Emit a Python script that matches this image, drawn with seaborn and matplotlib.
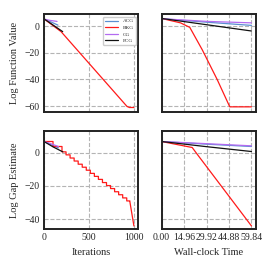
import numpy as np
import pandas as pd
import matplotlib
matplotlib.use("Agg")
import matplotlib.pyplot as plt
from matplotlib.lines import Line2D
import seaborn as sns

methods = ["ACG", "BKG", "CG", "PCG"]
colors = {"ACG": "#5a8fd0", "BKG": "#ff1a1a", "CG": "#b36bf0", "PCG": "#111111"}

# log function value vs iterations
fv_it = {"ACG": [0, 80, 155], "BKG": [0, 190, 923, 950, 1000],
         "CG": [0, 70, 145], "PCG": [0, 100, 208]}
fv_it_val = {"ACG": [5.2, 3.0, 0.7], "BKG": [5.4, -4.2, -60.2, -61.0, -61.0],
             "CG": [5.2, 4.2, 3.5], "PCG": [5.4, 0.8, -4.2]}

# log function value vs wall-clock time
fv_t = {"ACG": [0, 30, 59.84], "BKG": [0, 12.6, 18.8, 27.1, 37.0, 45.4, 59.84],
        "CG": [0, 30, 59.84], "PCG": [0, 30, 59.84]}
fv_t_val = {"ACG": [5.5, 2.9, 0.5], "BKG": [5.7, 2.4, -1.0, -17.8, -40.0, -60.5, -60.5],
            "CG": [5.5, 3.5, 2.4], "PCG": [5.7, 1.0, -3.7]}

# log gap estimate vs iterations
gap_it = {"ACG": [0, 80, 160], "CG": [0, 80, 160], "PCG": [0, 100, 209]}
gap_it_val = {"ACG": [6.6, 4.6, 2.8], "CG": [6.6, 5.2, 3.6], "PCG": [6.6, 3.4, 0.4]}
bkg_step_it = [0, 100, 200, 245, 290, 335, 380, 425, 470, 515, 560, 605, 650, 695, 740, 785, 830, 875, 920, 955]
bkg_step_val = [6.6, 3.6, 0.4, -1.4, -3.3, -5.1, -7.0, -8.8, -10.6, -12.5, -14.3, -16.1, -18.0, -19.8, -21.6, -23.5, -25.3, -27.2, -29.0, -29.5]
bkg_end_it, bkg_end_val = 1000, -44.0

# log gap estimate vs wall-clock time
gap_t = {"ACG": [0, 30, 59.84], "BKG": [0, 20.4, 23.7, 59.84],
         "CG": [0, 30, 59.84], "PCG": [0, 30, 59.84]}
gap_t_val = {"ACG": [6.6, 5.0, 3.6], "BKG": [6.6, 3.0, -1.0, -44.0],
             "CG": [6.6, 5.3, 4.0], "PCG": [6.6, 3.5, 0.6]}

time_ticks = [0.00, 14.96, 29.92, 44.88, 59.84]
iter_ticks = [0, 500, 1000]

sns.set_style("whitegrid", {"grid.linestyle": "--", "grid.color": "#b4b4b4",
                            "axes.edgecolor": "#222222"})
plt.rcParams["font.family"] = ["Liberation Serif", "DejaVu Serif"]
plt.rcParams["axes.linewidth"] = 1.4

fig, axes = plt.subplots(2, 2, figsize=(2.7, 2.7), dpi=100, sharex="col", sharey="row")
fig.subplots_adjust(left=0.163, right=0.948, top=0.948, bottom=0.152, wspace=0.245, hspace=0.19)

def draw(ax, xs, ys):
    for m in methods:
        if m not in xs:
            continue
        sns.lineplot(x=xs[m], y=ys[m], ax=ax, color=colors[m], lw=0.9,
                     sort=False, estimator=None)

draw(axes[0, 0], fv_it, fv_it_val)
draw(axes[0, 1], fv_t, fv_t_val)
draw(axes[1, 1], gap_t, gap_t_val)

# staircase for BKG gap vs iterations
sx = list(np.repeat(bkg_step_it, 2)[1:]) + [bkg_end_it]
sy = list(np.repeat(bkg_step_val, 2)[:-1]) + [bkg_end_val]
ax = axes[1, 0]
for m in methods:
    if m == "BKG":
        sns.lineplot(x=sx, y=sy, ax=ax, color=colors[m], lw=0.9, sort=False, estimator=None)
    else:
        sns.lineplot(x=gap_it[m], y=gap_it_val[m], ax=ax, color=colors[m], lw=0.9,
                     sort=False, estimator=None)

for a in axes.flat:
    a.tick_params(labelsize=7, length=0, pad=3)
    a.grid(True, lw=0.8)
    for s in a.spines.values():
        s.set_color("#222222")
        s.set_linewidth(1.4)

axes[0, 0].set_xlim(0, 1050)
axes[0, 0].set_xticks(iter_ticks)
axes[0, 1].set_xlim(0, 62.83)
axes[0, 1].set_xticks(time_ticks)
axes[1, 1].set_xticklabels(["%.2f" % t for t in time_ticks])
axes[0, 0].set_ylim(-64.5, 9.0)
axes[0, 0].set_yticks([0, -20, -40, -60])
axes[1, 0].set_ylim(-45.8, 13.0)
axes[1, 0].set_yticks([0, -20, -40])

axes[0, 0].set_ylabel("Log Function Value", fontsize=7.5)
axes[1, 0].set_ylabel("Log Gap Estimate", fontsize=7.5)
axes[1, 0].set_xlabel("Iterations", fontsize=7.5)
axes[1, 1].set_xlabel("Wall-clock Time", fontsize=7.5)

handles = [Line2D([], [], color=colors[m], lw=0.9) for m in methods]
axes[0, 0].legend(handles, methods, loc="upper right", fontsize=3.8, handlelength=2.6,
                  frameon=True, borderpad=0.4, labelspacing=0.35, framealpha=1)

fig.savefig("out.png", dpi=100)
